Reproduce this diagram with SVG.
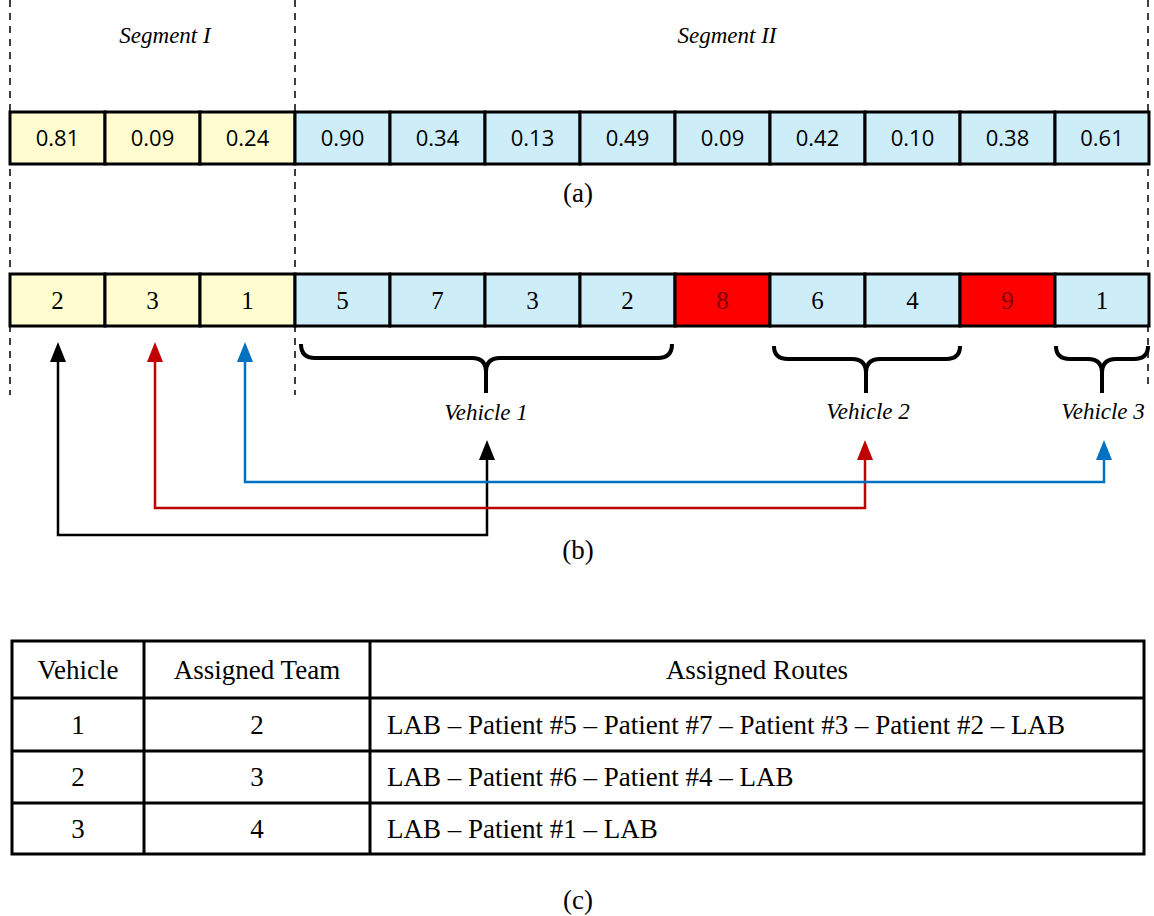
<svg xmlns="http://www.w3.org/2000/svg" width="1154" height="916" viewBox="0 0 1154 916">
<style>
.y{fill:#fffdd0;stroke:#000;stroke-width:3}
.b{fill:#cdedf8;stroke:#000;stroke-width:3}
.r{fill:#ff0000;stroke:#000;stroke-width:3}
.s{font-family:"Open Sans","Liberation Sans",sans-serif;font-size:22px;text-anchor:middle}
.t{font-family:"Liberation Serif",serif;font-size:25px;text-anchor:middle}
.c{font-family:"Liberation Serif",serif;font-size:27px;text-anchor:middle}
.i{font-family:"Liberation Serif",serif;font-size:23px;font-style:italic;text-anchor:middle}
.d{stroke:#000;stroke-width:1.5;stroke-dasharray:7,6;fill:none}
.br{fill:none;stroke:#000;stroke-width:4}
.tb{fill:none;stroke:#000;stroke-width:3}
</style>
<g id="guides">
<line class="d" x1="10" y1="0" x2="10" y2="395"/>
<line class="d" x1="295" y1="0" x2="295" y2="395"/>
<line class="d" x1="1148" y1="0" x2="1148" y2="385"/>
<text class="i" x="165" y="43">Segment I</text>
<text class="i" x="727" y="43">Segment II</text>
</g>
<g id="rowA">
<rect class="y" x="10" y="112" width="95" height="52"/><text class="s" x="57.5" y="146">0.81</text>
<rect class="y" x="105" y="112" width="95" height="52"/><text class="s" x="152.5" y="146">0.09</text>
<rect class="y" x="200" y="112" width="95" height="52"/><text class="s" x="247.5" y="146">0.24</text>
<rect class="b" x="295" y="112" width="95" height="52"/><text class="s" x="342.5" y="146">0.90</text>
<rect class="b" x="390" y="112" width="95" height="52"/><text class="s" x="437.5" y="146">0.34</text>
<rect class="b" x="485" y="112" width="95" height="52"/><text class="s" x="532.5" y="146">0.13</text>
<rect class="b" x="580" y="112" width="95" height="52"/><text class="s" x="627.5" y="146">0.49</text>
<rect class="b" x="675" y="112" width="95" height="52"/><text class="s" x="722.5" y="146">0.09</text>
<rect class="b" x="770" y="112" width="95" height="52"/><text class="s" x="817.5" y="146">0.42</text>
<rect class="b" x="865" y="112" width="95" height="52"/><text class="s" x="912.5" y="146">0.10</text>
<rect class="b" x="960" y="112" width="95" height="52"/><text class="s" x="1007.5" y="146">0.38</text>
<rect class="b" x="1055" y="112" width="94" height="52"/><text class="s" x="1102" y="146">0.61</text>
<text class="c" x="578" y="202">(a)</text>
</g>
<g id="rowB">
<rect class="y" x="10" y="274" width="95" height="52"/><text class="t" x="57.5" y="309">2</text>
<rect class="y" x="105" y="274" width="95" height="52"/><text class="t" x="152.5" y="309">3</text>
<rect class="y" x="200" y="274" width="95" height="52"/><text class="t" x="247.5" y="309">1</text>
<rect class="b" x="295" y="274" width="95" height="52"/><text class="t" x="342.5" y="309">5</text>
<rect class="b" x="390" y="274" width="95" height="52"/><text class="t" x="437.5" y="309">7</text>
<rect class="b" x="485" y="274" width="95" height="52"/><text class="t" x="532.5" y="309">3</text>
<rect class="b" x="580" y="274" width="95" height="52"/><text class="t" x="627.5" y="309">2</text>
<rect class="r" x="675" y="274" width="95" height="52"/><text class="t" x="722.5" y="309" fill="#800000">8</text>
<rect class="b" x="770" y="274" width="95" height="52"/><text class="t" x="817.5" y="309">6</text>
<rect class="b" x="865" y="274" width="95" height="52"/><text class="t" x="912.5" y="309">4</text>
<rect class="r" x="960" y="274" width="95" height="52"/><text class="t" x="1007.5" y="309" fill="#800000">9</text>
<rect class="b" x="1055" y="274" width="94" height="52"/><text class="t" x="1102" y="309">1</text>
</g>
<g id="braces">
<path class="br" d="M301,344 Q301,358 315,358 L472,358 Q486,358 486,372 L486,393 M486,372 Q486,358 500,358 L658,358 Q672,358 672,344"/>
<path class="br" d="M774,346 Q774,359 788,359 L852,359 Q866,359 866,373 L866,393 M866,373 Q866,359 880,359 L946,359 Q960,359 960,346"/>
<path class="br" d="M1056,346 Q1056,359 1070,359 L1088,359 Q1102,359 1102,373 L1102,393 M1102,373 Q1102,359 1116,359 L1134,359 Q1148,359 1148,346"/>
<text class="i" x="486" y="420">Vehicle 1</text>
<text class="i" x="868" y="419">Vehicle 2</text>
<text class="i" x="1103" y="419">Vehicle 3</text>
</g>
<g id="connectors" fill="none" stroke-width="2.5">
<polyline stroke="#000" points="487,460 487,535 58,535 58,360"/>
<path d="M58,342 L50,362 L66,362 Z" fill="#000"/>
<path d="M487,440 L479,460 L495,460 Z" fill="#000"/>
<polyline stroke="#c00000" points="865,460 865,508 155,508 155,360"/>
<path d="M155,342 L147,362 L163,362 Z" fill="#c00000"/>
<path d="M865,440 L857,460 L873,460 Z" fill="#c00000"/>
<polyline stroke="#0070c0" points="245,360 245,482 1104,482 1104,460"/>
<path d="M245,342 L237,362 L253,362 Z" fill="#0070c0"/>
<path d="M1104,440 L1096,460 L1112,460 Z" fill="#0070c0"/>
</g>
<text class="c" x="578" y="559">(b)</text>
<g id="table">
<rect class="tb" x="12" y="641" width="1132" height="213"/>
<line class="tb" x1="12" y1="698" x2="1144" y2="698"/>
<line class="tb" x1="12" y1="751" x2="1144" y2="751"/>
<line class="tb" x1="12" y1="803" x2="1144" y2="803"/>
<line class="tb" x1="144" y1="641" x2="144" y2="854"/>
<line class="tb" x1="370" y1="641" x2="370" y2="854"/>
<text class="c" x="78" y="679">Vehicle</text>
<text class="c" x="257" y="679">Assigned Team</text>
<text class="c" x="757" y="679">Assigned Routes</text>
<text class="c" x="78" y="734">1</text><text class="c" x="257" y="734">2</text>
<text class="c" x="78" y="786">2</text><text class="c" x="257" y="786">3</text>
<text class="c" x="78" y="838">3</text><text class="c" x="257" y="838">4</text>
<text class="c" x="387" y="734" style="text-anchor:start">LAB – Patient #5 – Patient #7 – Patient #3 – Patient #2 – LAB</text>
<text class="c" x="387" y="786" style="text-anchor:start">LAB – Patient #6 – Patient #4 – LAB</text>
<text class="c" x="387" y="838" style="text-anchor:start">LAB – Patient #1 – LAB</text>
<text class="c" x="578" y="909">(c)</text>
</g>
</svg>
